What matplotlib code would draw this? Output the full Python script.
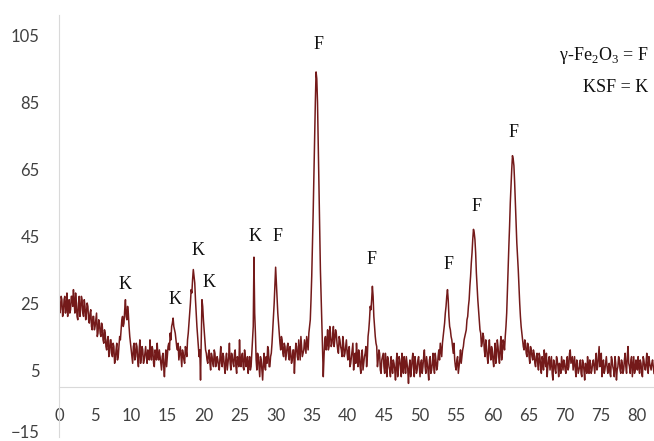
import numpy as np
import matplotlib.pyplot as plt
import matplotlib.transforms as mtransforms

plt.rcParams['mathtext.fontset'] = 'custom'
plt.rcParams['mathtext.rm'] = 'Liberation Serif'

# XRD pattern: two interleaved sampling grids
# even grid: 2-theta = 0.0, 0.2, 0.4 ... ; odd grid: 0.1, 0.3, 0.5 ...
step = 0.2
intensity_even = [
    28, 23, 26, 22, 27, 24, 21, 26, 23, 27,      # 0
    29, 22, 25, 20, 27, 23, 26, 21, 24, 22,      # 2
    24, 19, 23, 17, 21, 18, 22, 16, 19, 15,      # 4
    18, 13, 16, 11, 15, 10, 14, 9, 12, 8,        # 6
    13, 9, 15, 17, 21, 19, 26, 20, 22, 15,       # 8
    11, 7, 13, 9, 12, 6, 14, 9, 11, 8,           # 10
    12, 7, 10, 14, 8, 11, 6, 10, 13, 8,          # 12
    9, 5, 10, 3, 11, 9, 13, 16, 18, 20.5,        # 14
    17, 14, 11, 8, 12, 6, 10, 7, 11, 14,         # 16
    19, 25, 28, 35, 31, 22, 15, 9, 2, 26,        # 18
    20, 14, 10, 7, 11, 5, 9, 6, 10, 7,           # 20
    8, 5, 12, 6, 9, 4, 10, 7, 13, 5,             # 22
    9, 6, 11, 4, 8, 14, 6, 10, 5, 9,             # 24
    7, 4, 9, 6, 14, 38.7, 16, 5, 9, 3,           # 26
    8, 2, 10, 5, 7, 11, 6, 10, 17, 25,           # 28
    35.7, 27, 19, 13, 15, 10, 13, 8, 12, 9,      # 30
    12, 7, 11, 4, 13, 9, 14, 8, 12, 10,          # 32
    14, 10, 13, 16, 20, 33, 52, 73, 94, 85,      # 34
    60, 35, 20, 3, 14, 11, 17, 12, 16, 13,       # 36
    18, 14, 16, 11, 15, 12, 9, 13, 10, 14,       # 38
    8, 12, 7, 11, 5, 10, 13, 6, 9, 4,            # 40
    11, 7, 10, 6, 15, 20, 23, 30, 21, 15,        # 42
    12, 8, 10, 4, 9, 6, 10, 3, 8, 5,             # 44
    9, 4, 7, 2, 10, 5, 8, 3, 6, 9,               # 46
    4, 7, 1, 8, 5, 10, 3, 7, 5, 9,               # 48
    3, 8, 6, 11, 4, 7, 2, 9, 5, 10,              # 50
    4, 8, 6, 11, 13, 9, 15, 19, 24, 29,          # 52
    21, 17, 14, 10, 8, 5, 9, 6, 11, 9,           # 54
    12, 15, 17, 21, 26, 33, 40, 47, 44, 34,      # 56
    26, 20, 16, 13, 15, 9, 12, 7, 14, 8,         # 58
    11, 6, 13, 9, 12, 7, 15, 10, 13, 15,         # 60
    22, 35, 48, 60, 69, 66, 55, 43, 35, 25,      # 62
    18, 14, 11, 13, 9, 12, 7, 11, 8, 10,         # 64
    6, 10, 5, 9, 4, 8, 11, 6, 3, 8,              # 66
    5, 9, 2, 7, 4, 8, 3, 6, 9, 5,                # 68
    7, 4, 9, 6, 11, 8, 5, 9, 3, 7,               # 70
    5, 8, 3, 7, 2, 6, 9, 4, 7, 5,                # 72
    8, 4, 10, 6, 12, 7, 3, 8, 5, 9,              # 74
    4, 7, 3, 8, 5, 9, 2, 6, 8, 4,                # 76
    7, 5, 10, 4, 12, 6, 8, 3, 9, 5,              # 78
    6, 9, 4, 7, 3, 8, 5, 10, 4, 7,               # 80
    5, 8, 4,                                     # 82
]
intensity_odd = [
    22, 27, 21, 26, 22, 28, 25, 22, 27, 24,      # 0.1
    25, 28, 21, 25, 21, 27, 22, 26, 20, 25,      # 2.1
    20, 22, 18, 21, 17, 20, 15, 20, 16, 19,      # 4.1
    14, 17, 12, 14, 9, 14, 10, 13, 7, 11,        # 6.1
    8, 12, 14, 20, 18, 23, 21, 24, 18, 13,       # 8.1
    9, 12, 8, 13, 8, 11, 7, 12, 7, 10,           # 10.1
    9, 11, 8, 10, 12, 7, 11, 8, 9, 11,           # 12.1
    7, 9, 6, 8, 6, 12, 11, 14, 19, 18,           # 14.1
    16, 12, 13, 10, 9, 11, 8, 12, 9, 16,         # 16.1
    22, 29, 32, 33, 26, 18, 12, 11, 14, 24,      # 18.1
    17, 11, 8, 10, 7, 10, 7, 11, 6, 9,           # 20.1
    6, 9, 7, 10, 6, 8, 5, 9, 7, 10,              # 22.1
    7, 10, 6, 9, 6, 8, 9, 6, 11, 6,              # 24.1
    9, 7, 5, 10, 18, 22, 8, 10, 6, 9,            # 26.1
    5, 7, 6, 9, 12, 6, 9, 13, 21, 30,            # 28.1
    31, 22, 16, 11, 14, 9, 12, 10, 13, 8,        # 30.1
    10, 8, 11, 9, 12, 8, 11, 15, 9, 11,          # 32.1
    12, 15, 11, 18, 26, 42, 63, 85, 92, 73,      # 34.1
    47, 27, 12, 9, 15, 13, 11, 18, 12, 15,       # 36.1
    12, 17, 13, 10, 14, 11, 15, 9, 12, 10,       # 38.1
    11, 6, 9, 13, 8, 7, 9, 11, 6, 10,            # 40.1
    5, 9, 12, 9, 17, 24, 26, 27, 18, 13,         # 42.1
    6, 11, 5, 8, 10, 4, 7, 9, 6, 3,              # 44.1
    6, 8, 5, 7, 3, 9, 6, 10, 4, 7,               # 46.1
    9, 5, 6, 3, 8, 6, 9, 4, 8, 6,                # 48.1
    7, 4, 9, 6, 9, 5, 8, 4, 7, 6,                # 50.1
    10, 5, 9, 8, 11, 13, 17, 22, 27, 26,         # 52.1
    18, 15, 12, 13, 6, 8, 4, 8, 7, 11,           # 54.1
    14, 16, 20, 24, 30, 37, 44, 46, 40, 30,      # 56.1
    23, 17, 12, 16, 11, 14, 9, 11, 10, 12,       # 58.1
    8, 10, 7, 14, 9, 12, 8, 14, 11, 18,          # 60.1
    29, 42, 55, 65, 68, 61, 49, 39, 30, 21,      # 62.1
    16, 12, 14, 10, 13, 9, 12, 9, 11, 7,         # 64.1
    9, 7, 10, 6, 9, 5, 8, 10, 6, 9,              # 66.1
    7, 4, 8, 5, 9, 6, 7, 4, 7, 8,                # 68.1
    5, 8, 5, 10, 7, 9, 7, 5, 8, 4,               # 70.1
    6, 4, 8, 5, 7, 4, 6, 8, 4, 7,                # 72.1
    6, 8, 5, 9, 6, 10, 6, 4, 7, 6,               # 74.1
    6, 4, 9, 6, 3, 7, 5, 9, 5, 8,                # 76.1
    4, 8, 6, 9, 7, 4, 9, 6, 4, 8,                # 78.1
    5, 6, 8, 4, 9, 6, 7, 5, 9, 6,                # 80.1
    7, 6,                                        # 82.1
]

x_even = step * np.arange(len(intensity_even))
x_odd = 0.1 + step * np.arange(len(intensity_odd))
two_theta = np.concatenate([x_even, x_odd])
intensity = np.concatenate([intensity_even, intensity_odd])
order = np.argsort(two_theta)
two_theta, intensity = two_theta[order], intensity[order]

# phase labels above the peaks
peak_labels = ['K', 'K', 'K', 'K', 'K', 'F', 'F', 'F', 'F', 'F', 'F']
label_x = [9.2, 16.0, 19.3, 20.8, 27.1, 30.2, 36.0, 43.3, 53.9, 57.8, 62.9]
label_y = [30.4, 26.0, 40.7, 31.0, 45.0, 45.0, 102.3, 37.9, 36.4, 53.7, 76.0]

x_ticks = list(range(0, 81, 5))
y_ticks = [-15, 5, 25, 45, 65, 85, 105]

line_color = '#741a1a'
grey = '#d9d9d9'

fig = plt.figure(figsize=(6.54, 4.41), dpi=100)
ax = fig.add_axes([59 / 654, 4 / 441, 1 - 59 / 654, 422 / 441])

ax.plot(two_theta, intensity, color=line_color, lw=1.1)

ax.set_xlim(0, 82.4)
ax.set_ylim(-15, 111)
ax.set_xticks(x_ticks)
ax.set_yticks(y_ticks)

for s in ['top', 'right']:
    ax.spines[s].set_visible(False)
ax.spines['left'].set_color(grey)
ax.spines['bottom'].set_color(grey)
ax.spines['bottom'].set_position(('data', 0))

ax.tick_params(axis='both', length=0, labelsize=12, labelcolor='#404040')
ax.tick_params(axis='y', pad=14)
ax.tick_params(axis='x', pad=15)
for lab in ax.get_xticklabels() + ax.get_yticklabels():
    lab.set_fontfamily('Lato')

# keep the lowest y label inside the canvas
fig.canvas.draw()
low = ax.get_yticklabels()[0]
low.set_transform(low.get_transform() +
                  mtransforms.ScaledTranslation(0, 4 / 72, fig.dpi_scale_trans))

for t, x, y in zip(peak_labels, label_x, label_y):
    ax.text(x, y, t, ha='center', va='center', fontsize=13,
            family='Liberation Serif', color='#111111')

ax.text(0.99, 98.8, 'γ-Fe$_2$O$_3$ = F', transform=ax.get_yaxis_transform(),
        ha='right', va='center', fontsize=13, family='Liberation Serif',
        color='#111111')
ax.text(0.99, 89.4, 'KSF = K', transform=ax.get_yaxis_transform(),
        ha='right', va='center', fontsize=13, family='Liberation Serif',
        color='#111111')

fig.savefig('out.png', dpi=100)
